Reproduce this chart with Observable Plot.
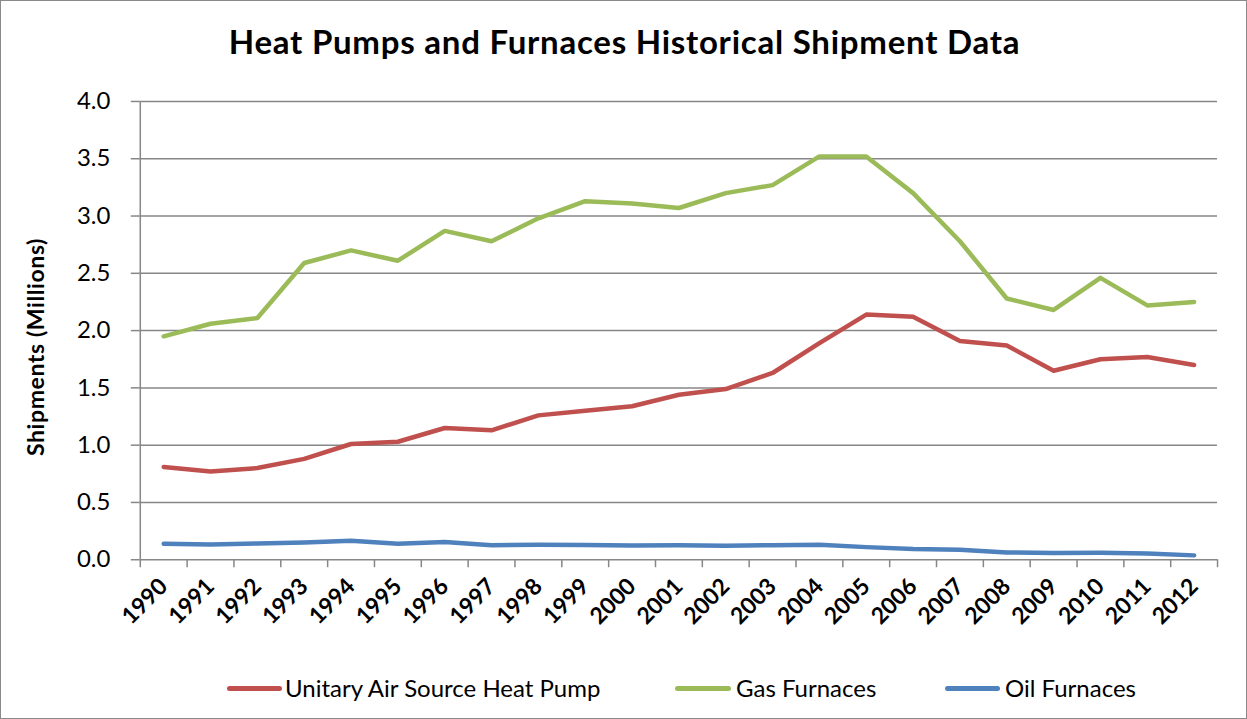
<!DOCTYPE html>
<html>
<head>
<meta charset="utf-8">
<script src="https://cdn.jsdelivr.net/npm/d3@7"></script>
<script src="https://cdn.jsdelivr.net/npm/@observablehq/plot@0.6"></script>
<style>
  body { margin: 0; background: #fff; }
  #wrap { position: relative; width: 1247px; height: 719px; box-sizing: border-box; border: 1.5px solid #8a8a8a; font-family: Lato, "Open Sans", sans-serif; overflow: hidden; }
  #title { position: absolute; top: 20px; left: 0; width: 1247px; text-align: center; font-weight: bold; font-size: 33px; letter-spacing: 0.75px; color: #000; }
  #ylabel { position: absolute; left: 34px; top: 346px; transform: translate(-50%, -50%) rotate(-90deg); font-weight: bold; font-size: 23px; letter-spacing: 0.6px; white-space: nowrap; }
  #chart { position: absolute; left: 0; top: 80px; }
  .leg { position: absolute; top: 671px; font-size: 24px; white-space: nowrap; line-height: 32px; }
  .sw { position: absolute; height: 5px; border-radius: 3px; top: 685px; }
</style>
</head>
<body>
<div id="wrap">
  <div id="title">Heat Pumps and Furnaces Historical Shipment Data</div>
  <div id="ylabel">Shipments (Millions)</div>
  <div id="chart"></div>
  <div class="sw" style="left:226px;width:55px;background:#C0504D"></div>
  <div class="leg" style="left:284px">Unitary Air Source Heat Pump</div>
  <div class="sw" style="left:674px;width:56px;background:#9BBB59"></div>
  <div class="leg" style="left:735px">Gas Furnaces</div>
  <div class="sw" style="left:944px;width:55px;background:#4F81BD"></div>
  <div class="leg" style="left:1004px">Oil Furnaces</div>
</div>
<script>
const years = [1990,1991,1992,1993,1994,1995,1996,1997,1998,1999,2000,2001,2002,2003,2004,2005,2006,2007,2008,2009,2010,2011,2012];
const heatPump = [0.81,0.77,0.80,0.88,1.01,1.03,1.15,1.13,1.26,1.30,1.34,1.44,1.49,1.63,1.89,2.14,2.12,1.91,1.87,1.65,1.75,1.77,1.70];
const gasFurnaces = [1.95,2.06,2.11,2.59,2.70,2.61,2.87,2.78,2.98,3.13,3.11,3.07,3.20,3.27,3.52,3.52,3.20,2.78,2.28,2.18,2.46,2.22,2.25];
const oilFurnaces = [0.14,0.133,0.142,0.151,0.165,0.139,0.154,0.127,0.130,0.129,0.125,0.127,0.122,0.127,0.130,0.110,0.093,0.087,0.064,0.058,0.061,0.055,0.038];
const yTicks = [0,0.5,1.0,1.5,2.0,2.5,3.0,3.5,4.0];
const seriesNames = ["Unitary Air Source Heat Pump","Gas Furnaces","Oil Furnaces"];
const seriesColors = ["#C0504D","#9BBB59","#4F81BD"];

const rows = [];
[heatPump, gasFurnaces, oilFurnaces].forEach((vals, s) => {
  vals.forEach((v, i) => rows.push({year: years[i], value: v, series: seriesNames[s]}));
});
const boundaries = years.map(y => y - 0.5).concat([years[years.length - 1] + 0.5]);

const chart = Plot.plot({
  width: 1247,
  height: 560,
  marginLeft: 139,
  marginRight: 29,
  marginTop: 20,
  marginBottom: 81,
  style: {fontFamily: "Lato, 'Open Sans', sans-serif", color: "#000", background: "transparent"},
  x: {type: "linear", domain: [years[0] - 0.5, years[years.length - 1] + 0.5]},
  y: {domain: [0, 4]},
  color: {domain: seriesNames, range: seriesColors},
  marks: [
    Plot.ruleY(yTicks, {stroke: "#878787", strokeWidth: 1.5}),
    Plot.axisY({ticks: yTicks, tickFormat: d3.format(".1f"), tickSize: 9, tickPadding: 21, fontSize: 24, stroke: "#878787", strokeWidth: 1.5, label: null}),
    Plot.ruleX([years[0] - 0.5], {stroke: "#878787", strokeWidth: 1.5}),
    Plot.axisX({ticks: boundaries, tickFormat: () => "", tickSize: 8, stroke: "#878787", strokeWidth: 1.5, label: null}),
    Plot.axisX({ticks: years, tickFormat: d => String(d), tickSize: 0, tickPadding: 23, tickRotate: -45, fontSize: 23, fontWeight: "bold", label: null}),
    Plot.line(rows, {x: "year", y: "value", z: "series", stroke: "series", strokeWidth: 4.5, strokeLinejoin: "round", strokeLinecap: "round"})
  ]
});
document.getElementById("chart").appendChild(chart);
</script>
</body>
</html>
